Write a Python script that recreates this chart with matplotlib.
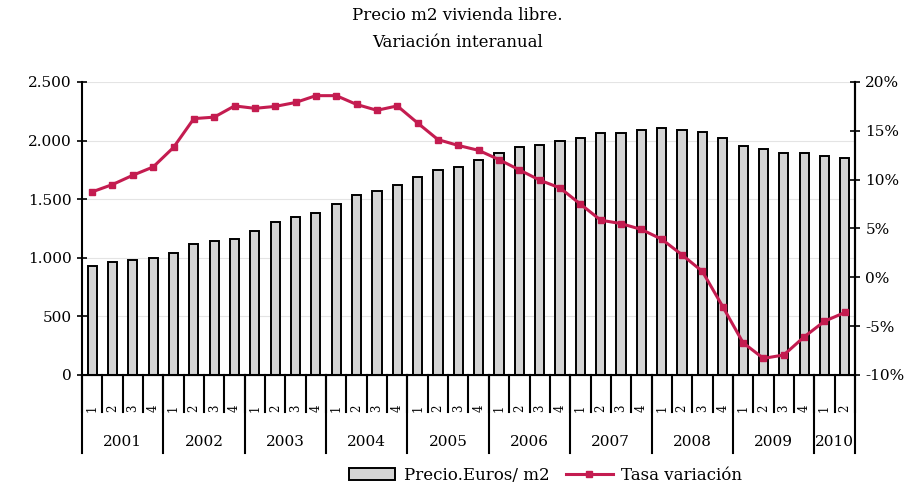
import matplotlib
matplotlib.use("Agg")
import matplotlib.pyplot as plt
import matplotlib.transforms as mtransforms
from matplotlib.patches import Patch
from matplotlib.lines import Line2D
from matplotlib.ticker import FuncFormatter, MultipleLocator
import numpy as np

plt.rcParams["font.family"] = ["DejaVu Serif", "Liberation Serif"]

years = ["2001", "2002", "2003", "2004", "2005", "2006", "2007", "2008", "2009", "2010"]
quarters_per_year = [4, 4, 4, 4, 4, 4, 4, 4, 4, 2]

precio = [929, 966, 980, 994, 1045, 1116, 1142, 1159, 1230, 1307,
          1344, 1378, 1455, 1534, 1568, 1619, 1688, 1753, 1776, 1832,
          1895, 1946, 1960, 1994, 2023, 2063, 2063, 2094, 2108, 2094,
          2077, 2026, 1957, 1932, 1898, 1898, 1866, 1852]

tasa = [8.75, 9.5, 10.45, 11.3, 13.3, 16.25, 16.4, 17.55, 17.3, 17.5,
        17.9, 18.6, 18.6, 17.7, 17.1, 17.55, 15.8, 14.1, 13.5, 13.0,
        12.05, 11.0, 9.95, 9.15, 7.5, 5.85, 5.5, 4.9, 3.9, 2.3,
        0.6, -3.0, -6.7, -8.3, -7.95, -6.1, -4.5, -3.6]

quarter_labels = [str(q + 1) for n in quarters_per_year for q in range(n)]

BAR_FILL = "#d4d4d4"
LINE_COL = "#c41c50"
FS = 11

fig = plt.figure(figsize=(9.15, 4.9), dpi=100)
ax = fig.add_axes([0.0896, 0.2347, 0.8448, 0.598])

x = np.arange(len(precio))
ax.bar(x, precio, width=0.45, color=BAR_FILL, edgecolor="black", linewidth=1.4, zorder=2)
ax.set_xlim(-0.5, len(precio) - 0.5)
ax.set_ylim(0, 2500)
ax.yaxis.set_major_locator(MultipleLocator(500))
ax.yaxis.set_major_formatter(FuncFormatter(lambda v, p: f"{v:,.0f}".replace(",", ".")))
ax.grid(axis="y", color="#e4e4e4", linewidth=0.8, zorder=0)
ax.set_axisbelow(True)

ax.set_xticks(x)
ax.set_xticklabels(quarter_labels, rotation=90, fontsize=8.5)
ax.tick_params(axis="x", length=0, pad=21)
ax.tick_params(axis="y", direction="inout", length=7, width=1.2, labelsize=FS, pad=4)

ax.spines["top"].set_visible(False)
for side in ["left", "bottom", "right"]:
    ax.spines[side].set_linewidth(1.5)

ax2 = ax.twinx()
ax2.plot(x, tasa, color=LINE_COL, linewidth=2.2, marker="s", markersize=4, zorder=3)
ax2.set_ylim(-10, 20)
ax2.yaxis.set_major_locator(MultipleLocator(5))
ax2.yaxis.set_major_formatter(FuncFormatter(lambda v, p: f"{v:.0f}%"))
ax2.tick_params(axis="y", direction="inout", length=7, width=1.2, labelsize=FS, pad=4)
ax2.spines["top"].set_visible(False)
ax2.spines["right"].set_linewidth(1.5)
ax2.spines["left"].set_visible(False)

# separators and year labels below the axis
trans = mtransforms.blended_transform_factory(ax.transData, ax.transAxes)
bounds = np.arange(len(precio) + 1) - 0.5
for b in bounds:
    ax.plot([b, b], [0, -0.126], transform=trans, color="black", linewidth=1.5, clip_on=False)

start = 0
for yr, n in zip(years, quarters_per_year):
    left = start - 0.5
    ax.plot([left, left], [0, -0.266], transform=trans, color="black", linewidth=1.5, clip_on=False)
    ax.text(start + (n - 1) / 2, -0.229, yr, transform=trans, ha="center", va="center",
            fontsize=FS)
    start += n
ax.plot([start - 0.5, start - 0.5], [0, -0.266], transform=trans, color="black",
        linewidth=1.5, clip_on=False)

fig.suptitle("Precio m2 vivienda libre.\nVariación interanual", y=0.985, fontsize=12,
             linespacing=1.75)

handles = [Patch(facecolor=BAR_FILL, edgecolor="black", linewidth=1.4),
           Line2D([0], [0], color=LINE_COL, linewidth=2.2, marker="s", markersize=4)]
fig.legend(handles, ["Precio.Euros/ m2", "Tasa variación"], loc="center",
           bbox_to_anchor=(0.596, 0.03), ncol=2, frameon=False, fontsize=12,
           handlelength=2.8, columnspacing=1.0, handletextpad=0.5)

fig.savefig("out.png", dpi=100)
